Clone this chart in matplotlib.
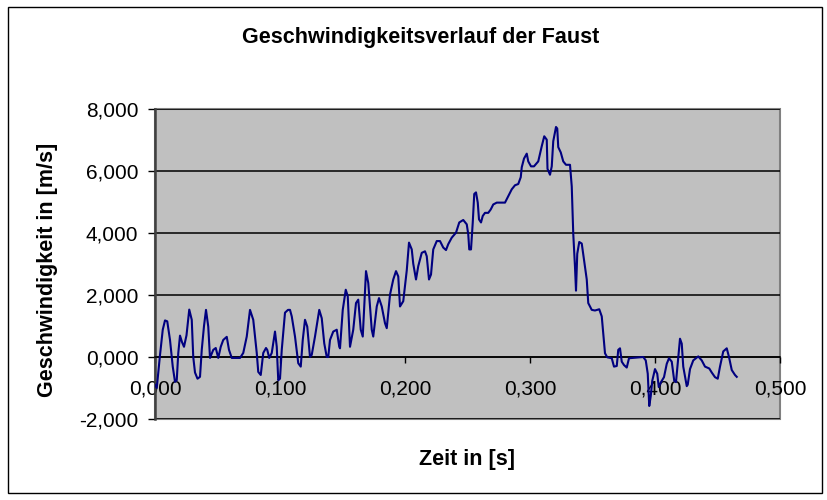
import matplotlib
matplotlib.use("Agg")
import matplotlib.pyplot as plt
from matplotlib.ticker import FuncFormatter, MultipleLocator
from matplotlib.patches import Rectangle

# Zeit in ms
zeitMs = [
    0, 1.4, 4.0, 6.2, 8.0, 9.8, 12.0, 14.2, 16.0, 17.4, 18.6, 20.0, 21.6, 23.2, 25.2,
    27.4, 29.4, 30.6, 32.0, 34.0, 36.0, 37.4, 39.2, 40.8, 42.6, 44.0, 46.6, 48.6, 50.6,
    52.6, 54.6, 57.4, 59.2, 61.4, 68.0, 70.6, 73.4, 76.0, 78.6, 81.4, 82.6, 84.6, 86.6,
    88.8, 89.8, 91.4, 93.4, 96.0, 97.4, 98.6, 100.0, 101.4, 104.0, 106.4, 108.0, 109.4,
    112.0, 114.6, 116.6, 118.2, 120.0, 121.8, 124.0, 125.4, 128.0, 131.4, 133.4, 135.4,
    137.4, 138.6, 140.0, 142.6, 145.4, 147.4, 148.0, 150.2, 152.6, 154.2, 156.0, 158.6,
    160.8, 162.6, 164.6, 166.2, 168.8, 170.6, 173.4, 174.6, 177.4, 179.2, 181.4, 184.0,
    185.4, 188.0, 190.6, 192.8, 194.6, 196.0, 198.6, 201.4, 203.2, 205.4, 206.6, 208.8,
    210.6, 213.4, 216.0, 217.4, 219.2, 220.8, 222.6, 225.4, 228.0, 230.6, 232.8, 234.6,
    237.4, 240.8, 243.4, 246.6, 249.4, 250.6, 251.4, 252.8, 254.2, 255.4, 256.8, 258.2,
    259.2, 260.8, 262.2, 264.0, 266.6, 268.6, 270.6, 273.4, 280.0, 282.6, 285.4, 288.0,
    290.6, 292.6, 293.4, 295.2, 297.4, 298.6, 300.8, 303.2, 306.6, 309.4, 311.4, 313.4,
    314.0, 316.0, 317.4, 318.6, 320.8, 321.8, 322.6, 324.6, 326.6, 328.8, 332.0, 333.4,
    334.6, 336.0, 336.8, 337.8, 339.4, 341.4, 345.4, 346.6, 349.4, 352.0, 355.4, 357.4,
    360.0, 361.8, 365.4, 367.2, 369.4, 370.6, 372.0, 373.4, 375.2, 377.4, 379.2, 390.6,
    392.6, 394.2, 395.4, 396.6, 397.8, 400.0, 401.8, 403.0, 404.8, 407.2, 409.4, 411.2,
    413.4, 415.4, 416.8, 418.6, 420.0, 421.4, 422.6, 425.4, 426.2, 428.0, 430.6, 434.6,
    437.4, 440.0, 443.4, 445.4, 448.0, 450.2, 452.0, 454.6, 457.4, 459.2, 461.4, 464.0,
    465.4,
]

# Geschwindigkeit in m/s
speed = [
    -0.90, -1.00, 0.06, 0.88, 1.18, 1.15, 0.55, -0.31, -0.80, -0.75, 0.12, 0.69, 0.48,
    0.33, 0.70, 1.53, 1.20, 0.00, -0.50, -0.70, -0.64, 0.23, 1.00, 1.52, 0.98, -0.03,
    0.23, 0.29, -0.03, 0.33, 0.55, 0.65, 0.23, -0.03, -0.03, 0.13, 0.66, 1.52, 1.20,
    0.13, -0.48, -0.58, 0.13, 0.29, 0.23, -0.03, 0.13, 0.82, 0.33, -0.75, -0.70, 0.23,
    1.43, 1.52, 1.52, 1.31, 0.66, -0.20, -0.31, 0.55, 1.20, 0.98, 0.00, 0.07, 0.66,
    1.52, 1.25, 0.44, 0.00, 0.00, 0.55, 0.82, 0.88, 0.33, 0.28, 1.52, 2.17, 1.96, 0.33,
    0.88, 1.74, 1.85, 0.88, 0.66, 2.77, 2.39, 0.88, 0.66, 1.63, 1.90, 1.63, 1.09, 0.93,
    2.01, 2.50, 2.77, 2.60, 1.63, 1.80, 2.79, 3.69, 3.47, 3.01, 2.50, 2.93, 3.36, 3.41,
    3.25, 2.50, 2.66, 3.47, 3.74, 3.74, 3.53, 3.45, 3.64, 3.85, 4.01, 4.34, 4.42, 4.28,
    3.96, 3.47, 3.47, 4.34, 5.26, 5.31, 4.98, 4.44, 4.34, 4.55, 4.65, 4.65, 4.76, 4.92,
    4.98, 4.98, 5.19, 5.41, 5.54, 5.58, 5.80, 6.12, 6.40, 6.56, 6.31, 6.15, 6.15, 6.31,
    6.80, 7.12, 7.01, 6.07, 5.88, 6.15, 6.96, 7.42, 7.37, 6.77, 6.60, 6.31, 6.20, 6.20,
    5.50, 3.98, 2.90, 2.14, 3.33, 3.71, 3.66, 2.50, 1.74, 1.52, 1.50, 1.54, 1.31, 0.12,
    -0.01, -0.04, -0.31, -0.29, 0.23, 0.28, -0.15, -0.26, -0.34, -0.04, 0.00, -0.11,
    -0.54, -1.58, -1.26, -0.77, -0.39, -0.54, -0.97, -0.81, -0.65, -0.22, -0.04, -0.15,
    -0.77, -0.81, 0.00, 0.59, 0.43, -0.31, -0.94, -0.89, -0.39, -0.11, 0.02, -0.11,
    -0.31, -0.37, -0.50, -0.65, -0.70, -0.31, 0.18, 0.28, 0.00, -0.42, -0.58, -0.64,
]

zeit = [t / 1000.0 for t in zeitMs]

plt.rcParams["font.family"] = ["Liberation Sans", "DejaVu Sans"]

fig = plt.figure(figsize=(8.28, 5.0), dpi=100)
ax = fig.add_axes([155 / 828, 81 / 500, 625 / 828, 310 / 500])
ax.set_facecolor("#C0C0C0")

ax.plot(zeit, speed, color="#000080", lw=1.5, zorder=3)

ax.set_xlim(0, 0.5)
ax.set_ylim(-2, 8)
ax.xaxis.set_major_locator(MultipleLocator(0.1))
ax.yaxis.set_major_locator(MultipleLocator(2))

def deComma(v, pos):
    return ("%.3f" % v).replace(".", ",")

ax.xaxis.set_major_formatter(FuncFormatter(deComma))
ax.yaxis.set_major_formatter(FuncFormatter(deComma))

ax.grid(axis="y", color="black", lw=1.1, zorder=1)
ax.set_axisbelow(True)

for s in ["top", "right"]:
    ax.spines[s].set_visible(False)
ax.spines["bottom"].set_position(("data", 0))
ax.spines["bottom"].set_color("black")
ax.spines["bottom"].set_linewidth(1.1)
ax.spines["left"].set_color("#404040")
ax.spines["left"].set_linewidth(1.8)

# grey frame round the plot area
ax.add_patch(Rectangle((0, 0), 1, 1, transform=ax.transAxes, fill=False,
                       edgecolor="#808080", lw=1.5, clip_on=False, zorder=0.5))

ax.tick_params(axis="y", direction="out", length=5, width=1, pad=7,
               labelsize=15, colors="black")
ax.tick_params(axis="x", direction="out", length=4, width=1, pad=12,
               labelsize=15, colors="black")

fig.text(421 / 828, 1 - 38 / 500, "Geschwindigkeitsverlauf der Faust",
         ha="center", va="center", fontsize=15.5, fontweight="bold")
fig.text(467 / 828, 1 - 460 / 500, "Zeit in [s]",
         ha="center", va="center", fontsize=15.5, fontweight="bold")
fig.text(48 / 828, 1 - 270 / 500, "Geschwindigkeit in [m/s]",
         ha="center", va="center", rotation=90, fontsize=15.5, fontweight="bold")

# outer chart border
fig.patches.append(Rectangle((8 / 828, 7 / 500), 814 / 828, 486 / 500,
                             transform=fig.transFigure, fill=False,
                             edgecolor="black", lw=1))

fig.savefig("out.png", dpi=100)
